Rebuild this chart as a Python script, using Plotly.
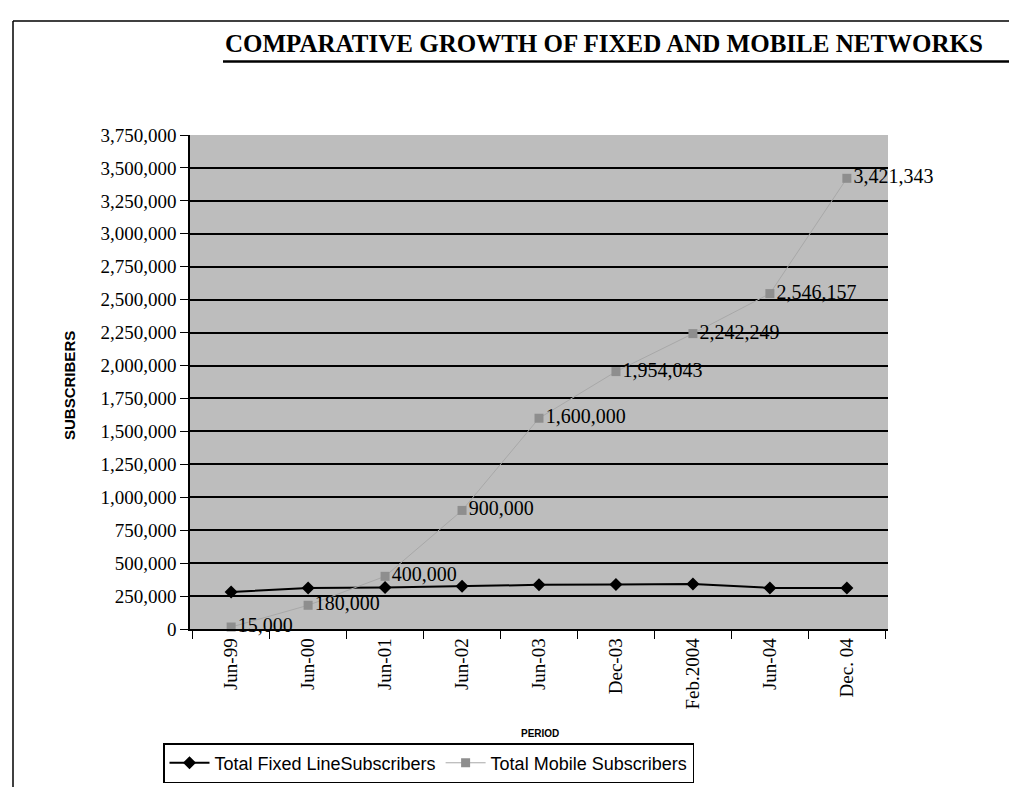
import plotly.graph_objects as go

periods = ["Jun-99", "Jun-00", "Jun-01", "Jun-02", "Jun-03", "Dec-03", "Feb.2004", "Jun-04", "Dec. 04"]
fixed_line = [280000, 312000, 315000, 325000, 335000, 337000, 342000, 312000, 312000]
mobile = [15000, 180000, 400000, 900000, 1600000, 1954043, 2242249, 2546157, 3421343]
y_ticks = list(range(0, 3750001, 250000))
y_tick_text = [f"{v:,}" for v in y_ticks]

# plot area in screen pixels: x 190..888, y 135..633
PX0, PX1, PY0, PY1 = 190, 888, 135, 633
W, H = PX1 - PX0, PY1 - PY0
def px(x): return (x - PX0) / W
def py(y): return (PY1 - y) / H

fig = go.Figure()
fig.add_trace(go.Scatter(
    x=periods, y=fixed_line, name="Total Fixed LineSubscribers",
    mode="lines+markers",
    line=dict(color="black", width=2),
    marker=dict(symbol="diamond", size=10, color="black"),
    cliponaxis=False,
))
fig.add_trace(go.Scatter(
    x=periods, y=mobile, name="Total Mobile Subscribers",
    mode="lines+markers+text",
    line=dict(color="#a8a8a8", width=1),
    marker=dict(symbol="square", size=9, color="#8e8e8e"),
    text=[f"{v:,}" for v in mobile],
    textposition="middle right",
    textfont=dict(family="Liberation Serif", size=20, color="black"),
    cliponaxis=False,
))

fig.update_layout(
    width=1017, height=787,
    paper_bgcolor="white", plot_bgcolor="#bdbdbd",
    margin=dict(l=PX0 - 8, r=1017 - (PX1 - 8), t=PY0 - 8, b=787 - (PY1 - 8)),
    showlegend=True,
    legend=dict(
        orientation="h", x=px(163), y=py(748), xanchor="left", yanchor="top",
        bordercolor="black", borderwidth=1.5, bgcolor="white",
        font=dict(family="Liberation Sans", size=18, color="black"),
        itemwidth=40, tracegroupgap=0,
    ),
    font=dict(family="Liberation Serif", color="black"),
)
fig.update_xaxes(
    type="category", showgrid=False, showline=True, linecolor="black", linewidth=1.5,
    ticks="outside", ticklen=8, tickcolor="black", tickson="boundaries",
    tickangle=-90, tickfont=dict(family="Liberation Serif", size=19, color="black"),
)
fig.update_yaxes(
    range=[0, 3750000], tickvals=y_ticks, ticktext=y_tick_text,
    showgrid=True, gridcolor="black", gridwidth=1.6,
    showline=True, linecolor="black", linewidth=1.5,
    ticks="outside", ticklen=8, tickcolor="black",
    tickfont=dict(family="Liberation Serif", size=19, color="black"),
    zeroline=False,
)

# axis titles
fig.add_annotation(
    text="<b>SUBSCRIBERS</b>", xref="paper", yref="paper",
    x=px(70), y=py(388), textangle=-90, showarrow=False,
    xanchor="center", yanchor="middle",
    font=dict(family="Liberation Sans", size=15, color="black"),
)
fig.add_annotation(
    text="<b>PERIOD</b>", xref="paper", yref="paper",
    x=px(540), y=py(738), showarrow=False,
    xanchor="center", yanchor="middle",
    font=dict(family="Liberation Sans", size=10, color="black"),
)

# Title with underline
fig.add_annotation(
    text="<b>COMPARATIVE GROWTH OF FIXED AND MOBILE NETWORKS</b>",
    xref="paper", yref="paper", x=px(223), y=py(43),
    xanchor="left", yanchor="middle", showarrow=False,
    font=dict(family="Liberation Serif", size=25, color="black"),
)
fig.add_shape(type="line", xref="paper", yref="paper",
              x0=px(223), x1=px(1030), y0=py(61), y1=py(61),
              line=dict(color="black", width=2.5))
# Page frame lines
fig.add_shape(type="line", xref="paper", yref="paper",
              x0=px(13), x1=px(13), y0=py(20), y1=py(800),
              line=dict(color="black", width=1.5))
fig.add_shape(type="line", xref="paper", yref="paper",
              x0=px(13), x1=px(1030), y0=py(20), y1=py(20),
              line=dict(color="black", width=1.5))

fig.write_html("out.html")
